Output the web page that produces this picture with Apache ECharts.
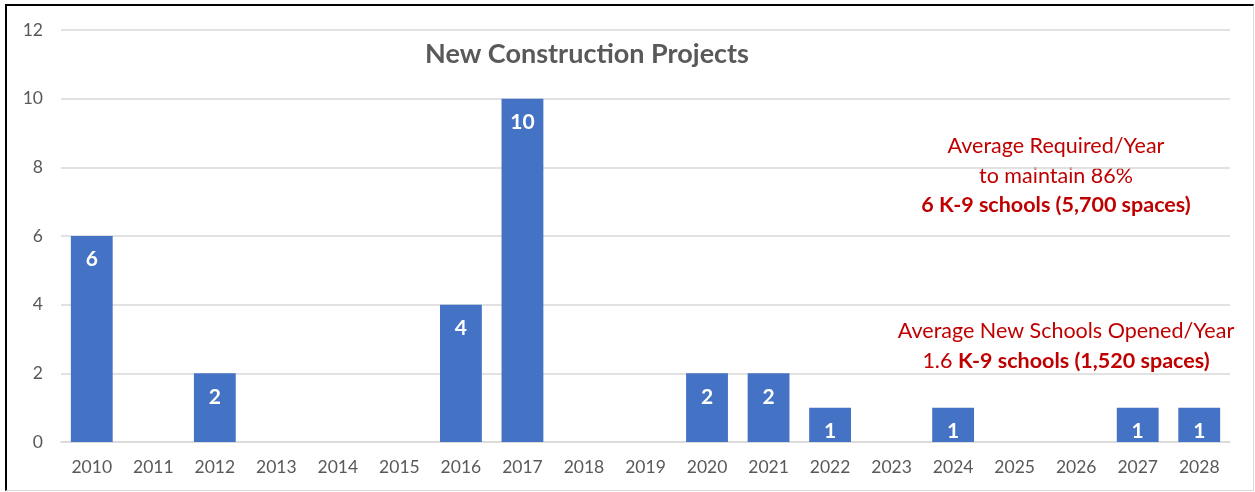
<!DOCTYPE html>
<html><head><meta charset="utf-8">
<script src="https://cdn.jsdelivr.net/npm/echarts@6/dist/echarts.min.js"></script>
<style>
html,body{margin:0;padding:0;background:#fff;}
#frame{position:absolute;left:5px;top:4px;width:1246px;height:484px;border-left:2px solid #000;border-top:2px solid #000;border-right:1px solid #d9d9d9;border-bottom:1px solid #d9d9d9;}
#c{position:absolute;left:0;top:0;width:1255px;height:492px;}
</style></head>
<body><div id="frame"></div><div id="c"></div>
<script>
const years = ['2010','2011','2012','2013','2014','2015','2016','2017','2018','2019','2020','2021','2022','2023','2024','2025','2026','2027','2028'];
const projects = [6,0,2,0,0,0,4,10,0,0,2,2,1,0,1,0,0,1,1];
const titleText = 'New Construction Projects';
const note1 = ['Average Required/Year','to maintain 86%','6 K-9 schools (5,700 spaces)'];
const note2 = ['Average New Schools Opened/Year','1.6','K-9 schools (1,520 spaces)'];
const FONT = 'Lato, "Liberation Sans", sans-serif';
const RED = '#C00000';
const chart = echarts.init(document.getElementById('c'));
function line(x, y, text, bold){
  return {type:'text',x:x,y:y,style:{text:text,align:'center',verticalAlign:'middle',fill:RED,fontSize:21.5,fontWeight:bold?'bold':'normal',fontFamily:FONT}};
}
chart.setOption({
  animation:false,
  textStyle:{fontFamily:FONT},
  graphic:[
    {type:'text',x:587,y:54,style:{text:titleText,align:'center',verticalAlign:'middle',fill:'#595959',fontSize:27,fontWeight:'bold',fontFamily:FONT}},
    line(1056,146,note1[0],false),
    line(1056,176,note1[1],false),
    line(1056,205,note1[2],true),
    line(1066,331,note2[0],false),
    {type:'text',x:1066,y:361,style:{text:'{n|'+note2[1]+' }{b|'+note2[2]+'}',align:'center',verticalAlign:'middle',fill:RED,fontSize:21.5,fontFamily:FONT,
      rich:{n:{fill:RED,fontSize:21.5,fontFamily:FONT},b:{fill:RED,fontSize:21.5,fontWeight:'bold',fontFamily:FONT}}}}
  ],
  grid:{left:61,right:25,top:30,bottom:50,containLabel:false},
  xAxis:{type:'category',data:years,axisLine:{lineStyle:{color:'#d9d9d9',width:1.5}},axisTick:{show:false},
    axisLabel:{color:'#595959',fontSize:17.5,margin:16,fontFamily:FONT}},
  yAxis:{type:'value',min:0,max:12,interval:2,axisLine:{show:false},axisTick:{show:false},
    splitLine:{lineStyle:{color:'#d9d9d9',width:1.5}},axisLabel:{color:'#595959',fontSize:17.5,margin:18,fontFamily:FONT}},
  series:[{type:'bar',data:projects,barCategoryGap:'32%',itemStyle:{color:'#4472C4'},
    label:{show:true,position:'insideTop',distance:13,color:'#fff',fontWeight:'bold',fontSize:21,fontFamily:FONT,
      formatter:p=>p.value>0?String(p.value):''}}]
});
</script></body></html>
